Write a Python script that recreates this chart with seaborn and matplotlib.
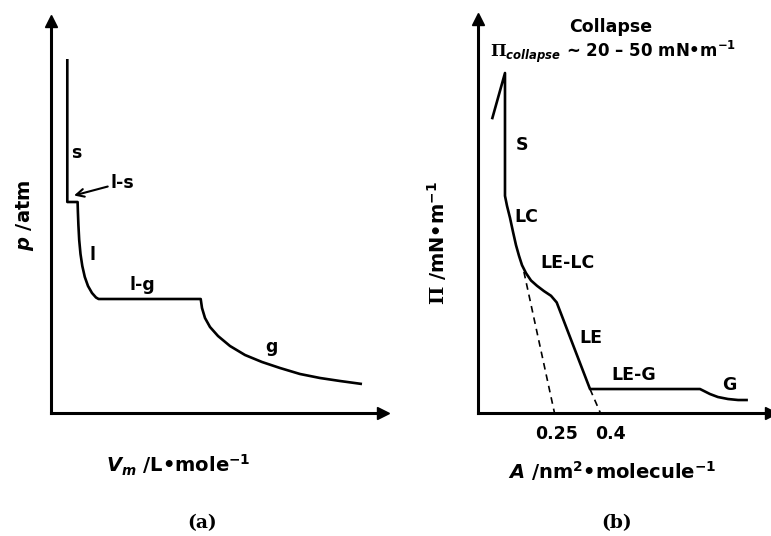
import matplotlib
matplotlib.use("Agg")
import matplotlib.pyplot as plt
import matplotlib.transforms as mtransforms
import seaborn as sns

# ---------------- data ----------------
# (a) p-V isotherm (schematic, arbitrary units)
pv_volume = [1.63, 1.63, 2.66, 2.69, 2.74, 2.82, 2.95, 3.13, 3.38, 3.70, 4.10,
             4.50, 4.76, 14.97, 15.10, 15.40, 15.90, 16.70, 17.90, 19.40,
             21.10, 22.90, 24.90, 26.90, 28.90, 31.10]
pv_pressure = [35.4, 21.1, 21.1, 20.1, 18.8, 17.3, 15.9, 14.7, 13.6, 12.7, 12.0,
               11.55, 11.4, 11.4, 10.5, 9.5, 8.6, 7.7, 6.7, 5.8,
               5.1, 4.5, 3.9, 3.5, 3.2, 2.9]
pv_labels = ["s", "l-s", "l", "l-g", "g"]

# (b) Pi-A isotherm (A in nm^2/molecule, Pi schematic)
pia_area = [0.0458, 0.0882, 0.0882, 0.0948, 0.1046, 0.1144, 0.1242, 0.1340,
            0.1438, 0.1569, 0.1732, 0.1928, 0.2157, 0.2386, 0.2572, 0.366,
            0.7255, 0.7386, 0.758, 0.784, 0.817, 0.850, 0.882]
pia_pressure = [44.1, 51.05, 32.6, 31.1, 29.3, 27.2, 25.2, 23.6,
                22.2, 21.0, 19.9, 19.1, 18.3, 17.6, 16.6, 3.6,
                3.6, 3.3, 2.85, 2.4, 2.1, 1.95, 1.95]
extrap_lc_area = [0.150, 0.25]
extrap_lc_pressure = [21.2, 0.0]
extrap_le_area = [0.366, 0.40]
extrap_le_pressure = [3.6, 0.0]
pia_labels = ["S", "LC", "LE-LC", "LE", "LE-G", "G"]
tick_values = [0.25, 0.4]
tick_labels = ["0.25", "0.4"]

# ---------------- style ----------------
sns.set_theme(style="white")
plt.rcParams["font.family"] = ["DejaVu Sans"]
plt.rcParams["font.weight"] = "bold"
plt.rcParams["text.color"] = "black"
plt.rcParams["mathtext.fontset"] = "custom"
plt.rcParams["mathtext.rm"] = "DejaVu Sans:bold"
plt.rcParams["mathtext.it"] = "DejaVu Sans:italic:bold"
plt.rcParams["mathtext.bf"] = "DejaVu Sans:bold"
plt.rcParams["mathtext.sf"] = "DejaVu Serif:bold"
plt.rcParams["lines.solid_joinstyle"] = "round"
plt.rcParams["lines.solid_capstyle"] = "butt"

W, H = 771, 536
fig = plt.figure(figsize=(W / 100, H / 100), dpi=100)
fig.patch.set_facecolor("white")

ax_a = fig.add_axes([51 / W, 123 / H, 332 / W, 392.5 / H])
ax_b = fig.add_axes([478 / W, 123 / H, 293 / W, 394 / H])

ax_a.set_xlim(0, 33.2)
ax_a.set_ylim(0, 39.25)
ax_b.set_xlim(0, 293 / 306)
ax_b.set_ylim(0, 394 / 6.66)

AX_LW = 2.2
CURVE_LW = 1.9
lab_fs = 12.5
axis_fs = 14

for ax in (ax_a, ax_b):
    ax.set_facecolor("white")
    for s in ("top", "right"):
        ax.spines[s].set_visible(False)
    for s in ("left", "bottom"):
        ax.spines[s].set_visible(True)
        ax.spines[s].set_linewidth(AX_LW)
        ax.spines[s].set_color("black")
    ax.set_xticks([])
    ax.set_yticks([])
    ax.grid(False)
    # arrow heads
    ax.plot(1, 0, ">", color="black", ms=8, transform=ax.get_yaxis_transform(),
            clip_on=False)
    ax.plot(0, 1, "^", color="black", ms=8, transform=ax.get_xaxis_transform(),
            clip_on=False)

# ---------------- panel (a) ----------------
sns.lineplot(x=pv_volume, y=pv_pressure, sort=False, estimator=None,
             color="black", lw=CURVE_LW, ax=ax_a)

ax_a.text(2.55, 26.0, pv_labels[0], fontsize=lab_fs, ha="center", va="center")
ax_a.annotate(pv_labels[1], xy=(2.3, 21.75), xytext=(6.0, 23.05),
              fontsize=lab_fs, ha="left", va="center",
              arrowprops=dict(arrowstyle="->", lw=1.5, color="black",
                              shrinkA=0, shrinkB=0, mutation_scale=14))
ax_a.text(4.15, 15.8, pv_labels[2], fontsize=lab_fs, ha="center", va="center")
ax_a.text(9.1, 12.8, pv_labels[3], fontsize=lab_fs, ha="center", va="center")
ax_a.text(22.0, 6.6, pv_labels[4], fontsize=lab_fs, ha="center", va="center")

ax_a.text((25 - 51) / 332, (413 - 215) / 392.5, r"$p$ /atm",
          transform=ax_a.transAxes, rotation=90, fontsize=axis_fs,
          ha="center", va="center")
ax_a.text((178 - 51) / 332, (413 - 465) / 392.5, r"$V_m$ /L•mole$^{-1}$",
          transform=ax_a.transAxes, fontsize=axis_fs, ha="center", va="center")
ax_a.text((202 - 51) / 332, (413 - 523) / 392.5, "(a)", transform=ax_a.transAxes,
          fontsize=13.5, family="DejaVu Serif", fontweight="bold",
          ha="center", va="center")

# ---------------- panel (b) ----------------
sns.lineplot(x=pia_area, y=pia_pressure, sort=False, estimator=None,
             color="black", lw=CURVE_LW, ax=ax_b)
sns.lineplot(x=extrap_lc_area, y=extrap_lc_pressure, sort=False, estimator=None,
             color="black", lw=1.2, linestyle=(0, (4, 3)), ax=ax_b)
sns.lineplot(x=extrap_le_area, y=extrap_le_pressure, sort=False, estimator=None,
             color="black", lw=1.2, linestyle=(0, (4, 3)), ax=ax_b)

label_pos_b = [(0.1438, 40.3), (0.157, 29.4), (0.294, 22.5),
               (0.369, 11.3), (0.51, 5.7), (0.82, 4.2)]
for txt, (xx, yy) in zip(pia_labels, label_pos_b):
    ax_b.text(xx, yy, txt, fontsize=lab_fs, ha="center", va="center")

tick_dx = [2.5, 10]
for val, lab, dx in zip(tick_values, tick_labels, tick_dx):
    tr = mtransforms.offset_copy(ax_b.transData, fig=fig, x=dx * 0.72, y=0,
                                 units="points")
    ax_b.text(val, -3.15, lab, transform=tr, fontsize=lab_fs,
              ha="center", va="center", clip_on=False)

ax_b.text(0.435, 58.0, "Collapse", fontsize=lab_fs, ha="center", va="center")
ax_b.text(0.039, 53.4, r"$\mathsf{\Pi}_{collapse}$ ~ 20 – 50 mN•m$^{-1}$",
          fontsize=12, ha="left", va="baseline")

ax_b.text((437 - 478) / 293, (413 - 243) / 394, r"$\mathsf{\Pi}$ /mN•m$^{-1}$",
          transform=ax_b.transAxes, rotation=90, fontsize=axis_fs,
          ha="center", va="center")
ax_b.text((612 - 478) / 293, (413 - 471) / 394, r"$A$ /nm$^2$•molecule$^{-1}$",
          transform=ax_b.transAxes, fontsize=axis_fs, ha="center", va="center")
ax_b.text((617 - 478) / 293, (413 - 523) / 394, "(b)", transform=ax_b.transAxes,
          fontsize=13.5, family="DejaVu Serif", fontweight="bold",
          ha="center", va="center")

fig.savefig("out.png", dpi=100, facecolor="white")
